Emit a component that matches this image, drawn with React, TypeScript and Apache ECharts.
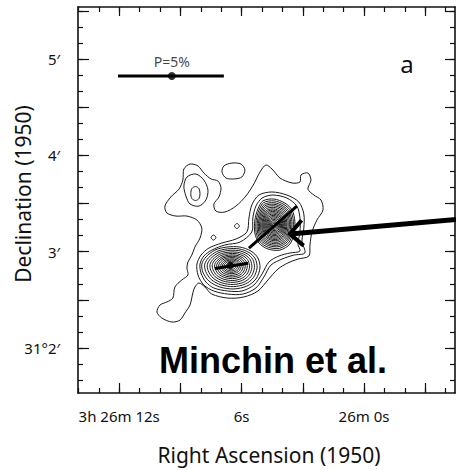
import React, { useEffect, useRef } from "react";
import * as echarts from "echarts";

// Right ascension in seconds past 3h 26m (B1950), declination in arcsec past +31° 0′ (B1950).
const RA_MIN = -4.46;
const RA_MAX = 14.02;
const DEC_MIN = 92;
const DEC_MAX = 332.4;

const raMajorTicks = [-3, 0, 3, 6, 9, 12];
const raMinorTicks = [-4, -3, -2, -1, 0, 1, 2, 3, 4, 5, 6, 7, 8, 9, 10, 11, 12, 13, 14];
const raLabelValues = [12, 6, 0];
const raLabelTexts = ["3h 26m 12s", "6s", "26m 0s"];

const decMajorTicks = [120, 150, 180, 210, 240, 270, 300, 330];
const decMinorTicks = [100, 110, 120, 130, 140, 150, 160, 170, 180, 190, 200, 210, 220, 230, 240, 250, 260, 270, 280, 290, 300, 310, 320, 330];
const decLabelValues = [120, 180, 240, 300];
const decLabelTexts = ["31°2′", "3′", "4′", "5′"];

// Lowest contour, enclosing the whole source and its south-western tail
const outerContour = [
  [9.76, 208.4], [9.47, 214.1], [9.07, 219.0], [8.88, 224.6], [8.83, 231.5], [8.53, 234.6],
  [8.14, 233.4], [7.85, 229.0], [7.50, 225.3], [7.16, 224.0], [7.01, 219.7], [7.11, 214.1],
  [7.36, 209.7], [7.26, 205.3], [6.82, 204.7], [6.28, 208.4], [5.79, 214.7], [5.40, 222.2],
  [5.10, 229.6], [4.81, 234.0], [4.51, 231.5], [4.12, 225.9], [3.53, 222.8], [3.14, 223.4],
  [3.09, 227.8], [2.75, 229.0], [2.60, 224.6], [2.75, 219.0], [2.46, 215.3], [2.11, 212.2],
  [2.01, 206.0], [2.31, 199.7], [2.55, 192.3], [2.65, 184.2], [2.70, 177.3], [3.24, 175.4],
  [3.73, 173.0], [4.22, 169.2], [4.71, 162.4], [5.20, 155.5], [5.89, 151.8], [6.67, 151.1],
  [7.46, 153.6], [7.80, 158.0], [8.09, 160.5], [8.29, 158.0], [8.39, 154.3], [8.53, 146.8],
  [8.78, 141.8], [9.02, 137.4], [9.42, 136.2], [9.91, 138.7], [10.15, 142.4], [10.0, 146.8],
  [9.66, 148.7], [9.37, 151.1], [9.27, 158.0], [8.93, 162.4], [8.63, 165.5], [8.68, 169.8],
  [8.63, 173.6], [8.44, 177.9], [8.29, 182.9], [8.04, 188.5], [7.95, 194.7], [8.19, 199.7],
  [8.68, 202.2], [9.22, 202.2], [9.66, 204.1],
];

// North-western lobe
const nwLoop = [
  [8.68, 226.5], [8.24, 228.4], [7.85, 224.6], [7.65, 218.4], [7.75, 212.2],
  [8.09, 208.4], [8.53, 209.7], [8.73, 214.7], [8.83, 220.9],
];
const nwPeak = [
  [8.26, 220.6], [8.09, 219.3], [8.04, 216.2], [8.09, 213.1],
  [8.26, 211.9], [8.44, 213.1], [8.49, 216.2], [8.44, 219.3],
];

// Isolated knots
const northKnot = [
  [6.87, 233.4], [6.48, 235.2], [6.03, 234.6], [5.84, 230.9],
  [5.99, 226.5], [6.38, 225.3], [6.77, 225.9], [6.96, 229.6],
];
const knotEast = [[6.23, 197.6], [6.11, 196.0], [6.23, 194.4], [6.35, 196.0]];
const knotWest = [[7.38, 190.4], [7.26, 188.8], [7.38, 187.2], [7.5, 188.8]];

// Contours joining the two cores
const bridgeOuter = [
  [5.74, 192.3], [5.64, 201.0], [5.5, 209.1], [5.15, 215.3], [4.51, 217.2], [3.78, 215.3],
  [3.19, 210.9], [2.95, 203.5], [2.95, 194.7], [3.04, 186.7], [2.9, 179.2], [3.44, 177.9],
  [4.02, 175.4], [4.56, 171.7], [4.91, 164.2], [5.3, 157.4], [5.94, 153.6], [6.67, 153.6],
  [7.36, 155.5], [7.85, 159.2], [8.14, 165.5], [8.19, 172.3], [7.99, 177.9], [7.6, 182.3],
  [6.97, 185.4], [6.28, 187.9],
];
const bridgeInner = [
  [5.5, 192.3], [5.45, 201.0], [5.3, 208.4], [5.0, 213.4], [4.47, 215.3], [3.78, 213.4],
  [3.29, 208.4], [3.14, 201.0], [3.14, 192.3], [3.24, 184.8], [3.14, 180.4], [3.63, 179.2],
  [4.17, 177.3], [4.66, 173.6], [5.0, 166.1], [5.4, 159.2], [5.99, 155.5], [6.67, 155.5],
  [7.36, 157.4], [7.75, 161.1], [7.99, 166.7], [8.04, 172.3], [7.85, 177.3], [7.46, 181.0],
  [6.82, 184.2], [6.08, 186.0],
];

// Northern core: outermost closed contour, peak position, relative size of each level
const northCoreOutline = [
  [4.96, 211.6], [4.42, 212.8], [3.88, 210.3], [3.53, 206.0], [3.39, 199.1], [3.44, 191.0],
  [3.63, 184.8], [4.12, 181.0], [4.71, 181.7], [5.15, 185.4], [5.35, 191.6], [5.35, 199.7],
  [5.2, 206.6],
];
const northCorePeak = [4.42, 196.6];
const northCoreLevels = [
  1, 0.93, 0.86, 0.8, 0.74, 0.68, 0.62, 0.57, 0.52, 0.47, 0.42, 0.37, 0.32, 0.27, 0.22, 0.17, 0.12, 0.07,
];

// Southern core
const southCoreOutline = [
  [7.75, 176.7], [7.31, 181.0], [6.72, 182.9], [6.08, 182.9], [5.54, 180.4], [5.2, 176.1],
  [5.1, 169.8], [5.3, 163.0], [5.74, 158.6], [6.38, 156.8], [7.06, 158.0], [7.6, 161.7],
  [7.9, 167.3], [7.95, 172.3],
];
const southCorePeak = [6.52, 171.4];
const southCoreLevels = [1, 0.9, 0.81, 0.72, 0.64, 0.56, 0.49, 0.42, 0.35, 0.29, 0.23, 0.17, 0.11, 0.06];

// Polarization vectors
const northVector = [[3.29, 208.4], [5.64, 182.3]];
const southVector = [[7.31, 169.6], [5.68, 172.8]];
const southVectorCentre = [6.55, 171.5];

// 5% polarization scale bar
const scaleBar = [[12.06, 289.4], [6.87, 289.4]];
const scaleBarCentre = [9.42, 289.4];

// Pointer to the northern core
const pointerShaft = [[-4.51, 200.0], [3.63, 191.0]];
const pointerHead = [[3.06, 199.6], [3.63, 191.0], [2.96, 183.8]];

const scaleRing = (outline: number[][], peak: number[], f: number) =>
  outline.map(([x, y]) => [peak[0] + f * (x - peak[0]), peak[1] + f * (y - peak[1])]);

const rings: number[][][] = [
  outerContour,
  nwLoop,
  nwPeak,
  northKnot,
  knotEast,
  knotWest,
  bridgeOuter,
  bridgeInner,
  ...northCoreLevels.map((f) => scaleRing(northCoreOutline, northCorePeak, f)),
  ...southCoreLevels.map((f) => scaleRing(southCoreOutline, southCorePeak, f)),
];

const INK = "#111";
const LABEL_FONT = "'Noto Sans', 'DejaVu Sans', sans-serif";

function raAxis(position: "bottom" | "top", ticks: number[], len: number, main: boolean) {
  return {
    type: "value",
    position,
    min: RA_MIN,
    max: RA_MAX,
    inverse: true,
    axisLine: { show: main, onZero: false, lineStyle: { color: INK, width: 1.6 } },
    axisTick: { show: true, inside: true, length: len, customValues: ticks, lineStyle: { color: INK, width: 1.2 } },
    axisLabel: {
      show: main && position === "bottom",
      customValues: raLabelValues,
      margin: 15,
      color: INK,
      fontSize: 15,
      fontFamily: LABEL_FONT,
      formatter: (v: number) => {
        const i = raLabelValues.indexOf(Math.round(v));
        return i >= 0 ? raLabelTexts[i] : "";
      },
    },
    splitLine: { show: false },
  };
}

function decAxis(position: "left" | "right", ticks: number[], len: number, main: boolean) {
  return {
    type: "value",
    position,
    min: DEC_MIN,
    max: DEC_MAX,
    axisLine: { show: main, onZero: false, lineStyle: { color: INK, width: 1.6 } },
    axisTick: { show: true, inside: true, length: len, customValues: ticks, lineStyle: { color: INK, width: 1.2 } },
    axisLabel: {
      show: main && position === "left",
      customValues: decLabelValues,
      margin: 18,
      color: INK,
      fontSize: 15,
      fontFamily: LABEL_FONT,
      formatter: (v: number) => {
        const i = decLabelValues.indexOf(Math.round(v));
        return i >= 0 ? decLabelTexts[i] : "";
      },
    },
    splitLine: { show: false },
  };
}

function vectorSeries(data: number[][], width: number, clip = true) {
  return {
    type: "line",
    data,
    symbol: "none",
    clip,
    silent: true,
    z: 5,
    lineStyle: { color: "#000", width, cap: "butt", join: "miter" },
  };
}

export default function App() {
  const ref = useRef<HTMLDivElement>(null);

  useEffect(() => {
    if (!ref.current) return;
    const chart = echarts.init(ref.current, undefined, { renderer: "svg" });
    chart.setOption({
      animation: false,
      backgroundColor: "#fff",
      grid: { left: 78, top: 7, width: 377, height: 386, containLabel: false },
      xAxis: [
        raAxis("bottom", raMajorTicks, 10, true),
        raAxis("bottom", raMinorTicks, 5, false),
        raAxis("top", raMajorTicks, 9, true),
        raAxis("top", raMinorTicks, 5, false),
      ],
      yAxis: [
        decAxis("left", decMajorTicks, 11, true),
        decAxis("left", decMinorTicks, 5, false),
        decAxis("right", decMajorTicks, 10, true),
        decAxis("right", decMinorTicks, 5, false),
      ],
      series: [
        {
          type: "custom",
          coordinateSystem: "cartesian2d",
          silent: true,
          z: 2,
          data: rings.map((r, i) => [r[0][0], r[0][1], i]),
          renderItem: (params: any, api: any) => {
            const ring = rings[params.dataIndex];
            return {
              type: "polygon",
              shape: { points: ring.map((p) => api.coord(p)), smooth: 0.3 },
              style: { fill: "none", stroke: "#1a1a1a", lineWidth: 1 },
            };
          },
        },
        vectorSeries(northVector, 3),
        vectorSeries(southVector, 3),
        vectorSeries(scaleBar, 3),
        vectorSeries(pointerShaft, 5, false),
        vectorSeries(pointerHead, 4, false),
        {
          type: "scatter",
          data: [southVectorCentre],
          symbol: "circle",
          symbolSize: 7,
          silent: true,
          z: 6,
          itemStyle: { color: "#000" },
        },
        {
          type: "scatter",
          data: [scaleBarCentre],
          symbol: "circle",
          symbolSize: 8,
          silent: true,
          z: 6,
          itemStyle: { color: "#000" },
          label: {
            show: true,
            position: "top",
            distance: 4,
            formatter: "P=5%",
            color: INK,
            fontSize: 14,
            fontFamily: LABEL_FONT,
          },
        },
      ],
      graphic: [
        {
          type: "text",
          x: 407,
          y: 63,
          style: { text: "a", font: `24px ${LABEL_FONT}`, fill: INK, align: "center", verticalAlign: "middle" },
        },
        {
          type: "text",
          x: 273,
          y: 360,
          style: {
            text: "Minchin et al.",
            font: "bold 36px 'Liberation Sans', Arial, sans-serif",
            fill: "#000",
            align: "center",
            verticalAlign: "middle",
          },
        },
        {
          type: "text",
          x: 269,
          y: 455,
          style: { text: "Right Ascension (1950)", font: `21px ${LABEL_FONT}`, fill: INK, align: "center", verticalAlign: "middle" },
        },
        {
          type: "text",
          x: 23,
          y: 194,
          rotation: Math.PI / 2,
          style: { text: "Declination (1950)", font: `21px ${LABEL_FONT}`, fill: INK, align: "center", verticalAlign: "middle" },
        },
      ],
    });
    return () => chart.dispose();
  }, []);

  return (
    <div
      ref={ref}
      style={{ position: "fixed", left: 0, top: 0, width: 456, height: 470, background: "#fff" }}
    />
  );
}
